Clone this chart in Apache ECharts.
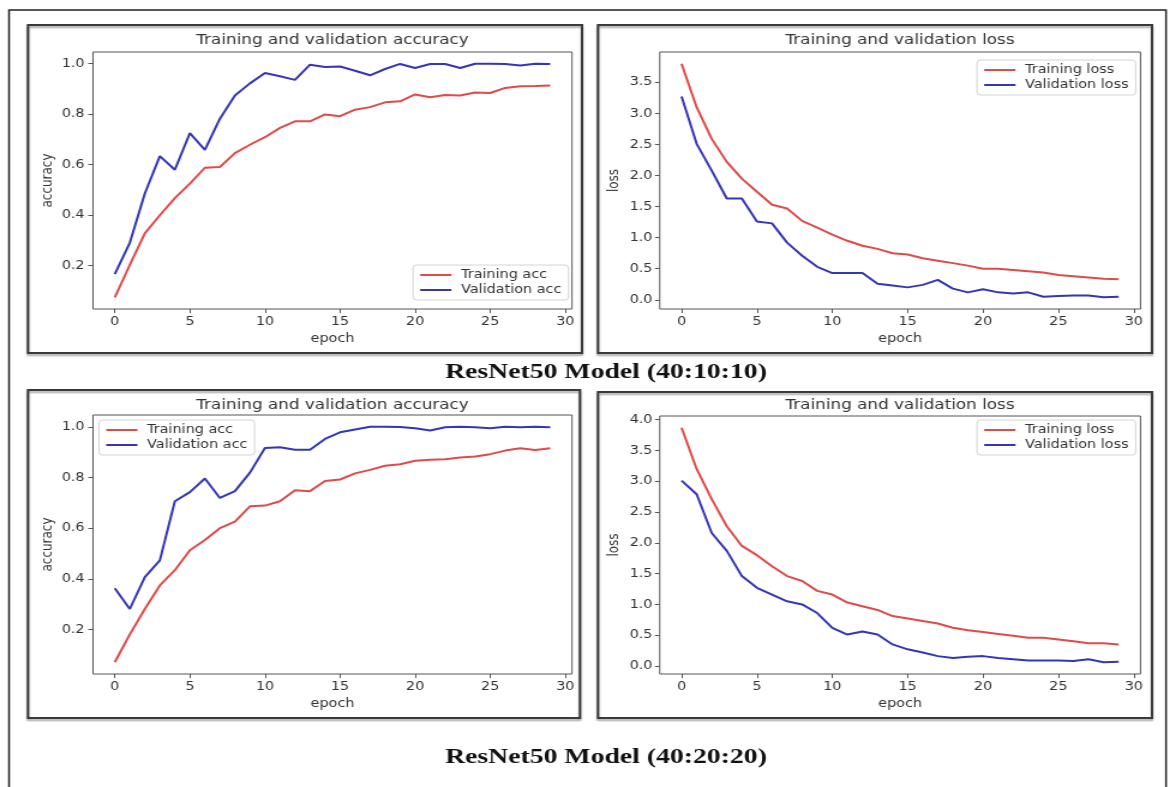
<!DOCTYPE html>
<html>
<head>
<meta charset="utf-8">
<script src="https://cdn.jsdelivr.net/npm/echarts@6/dist/echarts.min.js"></script>
<style>
  html, body { margin: 0; padding: 0; background: #fff; overflow: hidden; }
  /* the figure is laid out 980px wide and stretched to fill the 1176px window */
  #stage { width: 980px; height: 787px; transform: scaleX(1.2); transform-origin: 0 0; }
</style>
</head>
<body>
<div id="stage"></div>
<script>
// ---- data -------------------------------------------------------------
const epochs = [0,1,2,3,4,5,6,7,8,9,10,11,12,13,14,15,16,17,18,19,20,21,22,23,24,25,26,27,28,29];

// ResNet50 Model (40:10:10)
const acc1Train = [0.075,0.203,0.328,0.400,0.468,0.525,0.588,0.591,0.646,0.679,0.709,0.746,0.772,0.772,0.799,0.792,0.818,0.828,0.847,0.851,0.878,0.867,0.876,0.874,0.886,0.884,0.904,0.911,0.912,0.914];
const acc1Val   = [0.167,0.291,0.486,0.634,0.580,0.725,0.659,0.782,0.874,0.922,0.963,0.950,0.936,0.996,0.987,0.989,0.972,0.954,0.979,0.999,0.983,0.999,0.999,0.983,1.000,1.000,0.999,0.993,1.000,0.999];
const loss1Train = [3.80,3.10,2.59,2.22,1.95,1.74,1.53,1.47,1.27,1.16,1.05,0.95,0.87,0.82,0.75,0.73,0.67,0.63,0.59,0.55,0.50,0.50,0.48,0.46,0.44,0.40,0.38,0.36,0.34,0.33];
const loss1Val   = [3.27,2.51,2.08,1.63,1.63,1.26,1.23,0.92,0.71,0.53,0.43,0.43,0.43,0.26,0.23,0.20,0.24,0.32,0.18,0.12,0.17,0.12,0.10,0.12,0.05,0.06,0.07,0.07,0.04,0.05];

// ResNet50 Model (40:20:20)
const acc2Train = [0.071,0.181,0.281,0.374,0.434,0.513,0.553,0.600,0.626,0.686,0.689,0.706,0.750,0.746,0.786,0.792,0.816,0.830,0.846,0.852,0.866,0.870,0.872,0.879,0.883,0.892,0.906,0.915,0.908,0.915];
const acc2Val   = [0.363,0.281,0.407,0.473,0.706,0.742,0.796,0.719,0.746,0.819,0.916,0.919,0.909,0.909,0.952,0.978,0.989,1.000,1.000,0.999,0.994,0.985,0.998,1.000,0.998,0.994,1.000,0.998,1.000,0.998];
const loss2Train = [3.87,3.20,2.71,2.27,1.95,1.80,1.62,1.46,1.38,1.22,1.16,1.03,0.97,0.91,0.81,0.77,0.73,0.69,0.62,0.58,0.55,0.52,0.49,0.46,0.46,0.43,0.40,0.37,0.37,0.35];
const loss2Val   = [3.01,2.79,2.16,1.87,1.46,1.27,1.16,1.05,1.00,0.86,0.62,0.51,0.56,0.51,0.35,0.27,0.22,0.16,0.13,0.15,0.16,0.13,0.11,0.09,0.09,0.09,0.08,0.11,0.06,0.07];

// tick labels
const epochTicks = [0,5,10,15,20,25,30];
const accTicks   = [0.2,0.4,0.6,0.8,1.0];
const loss1Ticks = [0.0,0.5,1.0,1.5,2.0,2.5,3.0,3.5];
const loss2Ticks = [0.0,0.5,1.0,1.5,2.0,2.5,3.0,3.5,4.0];

const panelTitles = ['Training and validation accuracy', 'Training and validation loss'];
const captions = ['ResNet50 Model (40:10:10)', 'ResNet50 Model (40:20:20)'];
const names = { trainAcc: 'Training acc', valAcc: 'Validation acc', trainLoss: 'Training loss', valLoss: 'Validation loss' };

// ---- helpers ----------------------------------------------------------
const K = 1.2;                 // horizontal stretch of the stage
const px = x => x / K;         // window x -> stage x
const RED = '#e04a4a', BLUE = '#3535b8';
const FONT = 'DejaVu Sans';

// matplotlib-style autoscale: data range plus 5% on each side
function padded(arrs) {
  const all = [].concat(...arrs);
  const lo = Math.min(...all), hi = Math.max(...all), r = hi - lo;
  return [lo - 0.05 * r, hi + 0.05 * r];
}
const pairs = arr => epochs.map((e, i) => [e, arr[i]]);
const xr = padded([epochs]);

// plot areas, in window pixels
const grids = [
  { l: 93,    t: 52,  w: 479,   h: 257 },
  { l: 659.7, t: 52,  w: 480.8, h: 257 },
  { l: 93,    t: 415, w: 479,   h: 259 },
  { l: 659.7, t: 416, w: 480.8, h: 258 }
];

function xAxis(i) {
  return {
    type: 'value', gridIndex: i, min: xr[0], max: xr[1],
    name: 'epoch', nameLocation: 'middle', nameGap: 24,
    nameTextStyle: { fontFamily: FONT, fontSize: 12, color: '#333' },
    axisLine: { show: false, onZero: false }, splitLine: { show: false },
    axisTick: { show: true, length: 4, lineStyle: { color: '#555' }, customValues: epochTicks },
    axisLabel: { fontFamily: FONT, fontSize: 12, color: '#333', margin: 7, customValues: epochTicks,
                 formatter: v => String(Math.round(v)) }
  };
}
function yAxis(i, name, range, ticks, margin) {
  return {
    type: 'value', gridIndex: i, min: range[0], max: range[1],
    name: name, nameLocation: 'middle', nameGap: 32, nameRotate: 90,
    nameTextStyle: { fontFamily: FONT, fontSize: 12, color: '#333' },
    axisLine: { show: false, onZero: false }, splitLine: { show: false },
    axisTick: { show: true, length: 4, lineStyle: { color: '#555' }, customValues: ticks },
    axisLabel: { fontFamily: FONT, fontSize: 12, color: '#333', margin: margin, customValues: ticks,
                 formatter: v => v.toFixed(1) }
  };
}
function line(name, data, color, i) {
  return {
    type: 'line', name: name, data: pairs(data), xAxisIndex: i, yAxisIndex: i,
    symbol: 'none', showSymbol: false, smooth: false,
    lineStyle: { color: color, width: 2 }, itemStyle: { color: color },
    emphasis: { disabled: true }
  };
}
function legend(names, left, top) {
  return {
    data: names, orient: 'vertical', left: px(left), top: top,
    icon: 'rect', itemWidth: 26, itemHeight: 2, itemGap: 3, padding: [4, 6, 4, 6],
    backgroundColor: 'rgba(255,255,255,0.85)', borderColor: '#d4d4d4', borderWidth: 1, borderRadius: 3,
    textStyle: { fontFamily: FONT, fontSize: 12, color: '#333', padding: [0, 0, 0, 3] },
    selectedMode: false
  };
}
function text(str, x, y) {
  return {
    type: 'text', x: px(x), y: y,
    style: { text: str, fontFamily: FONT, fontSize: 14, fill: '#333', textAlign: 'center', textVerticalAlign: 'middle' }
  };
}
function box(x0, y0, x1, y1) {
  return {
    type: 'rect', shape: { x: px(x0), y: y0, width: px(x1 - x0), height: y1 - y0 },
    style: { fill: 'none', stroke: '#3a3a3a', lineWidth: 2,
             shadowBlur: 2, shadowOffsetY: 2, shadowColor: 'rgba(0,0,0,0.35)' }
  };
}

// ---- chart ------------------------------------------------------------
const chart = echarts.init(document.getElementById('stage'), null, { renderer: 'canvas' });

const captionStyle = { fontFamily: 'Liberation Serif', fontWeight: 'bold', fontSize: 21, fill: '#111',
                       textAlign: 'center', textVerticalAlign: 'middle' };

chart.setOption({
  animation: false,
  backgroundColor: '#fff',
  grid: grids.map(g => ({ left: px(g.l), top: g.t, width: px(g.w), height: g.h,
                          show: true, borderColor: '#555', borderWidth: 1, backgroundColor: 'transparent' })),
  xAxis: [0, 1, 2, 3].map(xAxis),
  yAxis: [
    yAxis(0, 'accuracy', padded([acc1Train, acc1Val]), accTicks, 7),
    yAxis(1, 'loss', padded([loss1Train, loss1Val]), loss1Ticks, 6),
    yAxis(2, 'accuracy', padded([acc2Train, acc2Val]), accTicks, 7),
    yAxis(3, 'loss', padded([loss2Train, loss2Val]), loss2Ticks, 6)
  ],
  legend: [
    legend([names.trainAcc, names.valAcc], 413, 265),
    legend([names.trainLoss, names.valLoss], 977, 60),
    legend([names.trainAcc, names.valAcc], 99, 420),
    legend([names.trainLoss, names.valLoss], 977, 420)
  ],
  series: [
    line(names.trainAcc, acc1Train, RED, 0),
    line(names.valAcc, acc1Val, BLUE, 0),
    line(names.trainLoss, loss1Train, RED, 1),
    line(names.valLoss, loss1Val, BLUE, 1),
    line(names.trainAcc, acc2Train, RED, 2),
    line(names.valAcc, acc2Val, BLUE, 2),
    line(names.trainLoss, loss2Train, RED, 3),
    line(names.valLoss, loss2Val, BLUE, 3)
  ],
  graphic: [
    // outer frame
    { type: 'polyline', shape: { points: [[px(9), 787], [px(9), 10], [px(1166), 10], [px(1166), 787]] },
      style: { fill: 'none', stroke: '#222', lineWidth: 1.5 } },
    // panel frames
    box(28, 25, 582, 353),
    box(598, 25, 1152, 353),
    box(28, 390, 580, 718),
    box(598, 392, 1152, 718),
    // panel titles
    text(panelTitles[0], 332.5, 40),
    text(panelTitles[1], 900, 40),
    text(panelTitles[0], 332.5, 405),
    text(panelTitles[1], 900, 405),
    // captions
    { type: 'text', x: px(606), y: 373, scaleX: 1.1, style: Object.assign({ text: captions[0] }, captionStyle) },
    { type: 'text', x: px(606), y: 758, scaleX: 1.1, style: Object.assign({ text: captions[1] }, captionStyle) }
  ]
});
</script>
</body>
</html>
